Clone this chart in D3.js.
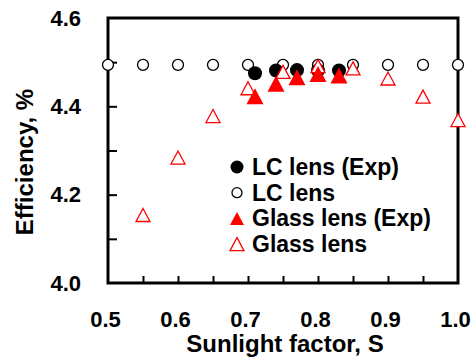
<!DOCTYPE html>
<html>
<head>
<meta charset="utf-8">
<script src="https://cdn.jsdelivr.net/npm/d3@7"></script>
<style>
  body { margin: 0; background: #fff; }
  svg { display: block; font-family: "Liberation Sans", Arial, sans-serif; font-weight: bold; }
</style>
</head>
<body>
<div id="chart"></div>
<script>
// Sunlight factor S and efficiency (%) for each series
const lcExpS = [0.71, 0.74, 0.77, 0.80, 0.83];
const lcExpEff = [4.475, 4.481, 4.482, 4.481, 4.481];

const lcS = [0.50, 0.55, 0.60, 0.65, 0.70, 0.75, 0.80, 0.85, 0.90, 0.95, 1.00];
const lcEff = [4.494, 4.494, 4.494, 4.494, 4.494, 4.494, 4.494, 4.494, 4.494, 4.494, 4.494];

const glassExpS = [0.71, 0.74, 0.77, 0.80, 0.83];
const glassExpEff = [4.423, 4.451, 4.466, 4.473, 4.470];

const glassS = [0.55, 0.60, 0.65, 0.70, 0.75, 0.80, 0.85, 0.90, 0.95, 1.00];
const glassEff = [4.154, 4.284, 4.378, 4.441, 4.478, 4.491, 4.486, 4.463, 4.422, 4.369];

const xTicks = [0.5, 0.6, 0.7, 0.8, 0.9, 1.0];
const yTicks = [4.0, 4.2, 4.4, 4.6];
const legendLabels = ['LC lens (Exp)', 'LC lens', 'Glass lens (Exp)', 'Glass lens'];

const width = 472, height = 358;
const margin = { top: 18, right: 14, bottom: 75, left: 108 };
const w = width - margin.left - margin.right;
const h = height - margin.top - margin.bottom;

const svg = d3.select('#chart').append('svg')
  .attr('width', width)
  .attr('height', height);

const g = svg.append('g')
  .attr('transform', `translate(${margin.left},${margin.top})`);

const x = d3.scaleLinear().domain([0.5, 1.0]).range([0, w]);
const y = d3.scaleLinear().domain([4.0, 4.6]).range([h, 0]);

// triangle path centred on its bounding box
function tri(tw, th) {
  return `M0,${-th / 2}L${tw / 2},${th / 2}L${-tw / 2},${th / 2}Z`;
}

// inward ticks
g.append('g')
  .attr('transform', `translate(0,${h})`)
  .call(d3.axisBottom(x).tickValues(d3.range(0.55, 1.0, 0.05)).tickSize(-7).tickFormat(''))
  .call(a => a.select('.domain').remove())
  .call(a => a.selectAll('line').attr('stroke', '#000').attr('stroke-width', 2));

g.append('g')
  .call(d3.axisLeft(y).tickValues([4.1, 4.2, 4.3, 4.4, 4.5]).tickSize(-9).tickFormat(''))
  .call(a => a.select('.domain').remove())
  .call(a => a.selectAll('line').attr('stroke', '#000').attr('stroke-width', 2));

// tick labels
g.append('g')
  .attr('transform', `translate(0,${h})`)
  .call(d3.axisBottom(x).tickValues(xTicks).tickSize(0).tickPadding(28).tickFormat(d3.format('.1f')))
  .call(a => a.select('.domain').remove())
  .call(a => a.selectAll('text').attr('font-size', 22).attr('font-family', null).attr('fill', '#000').attr('dx', -3));

g.append('g')
  .call(d3.axisLeft(y).tickValues(yTicks).tickSize(0).tickPadding(27).tickFormat(d3.format('.1f')))
  .call(a => a.select('.domain').remove())
  .call(a => a.selectAll('text').attr('font-size', 22).attr('font-family', null).attr('fill', '#000'));

// frame
g.append('rect')
  .attr('width', w)
  .attr('height', h)
  .attr('fill', 'none')
  .attr('stroke', '#000')
  .attr('stroke-width', 3);

// series
const lcData = lcS.map((s, i) => ({ s, e: lcEff[i] }));
const lcExpData = lcExpS.map((s, i) => ({ s, e: lcExpEff[i] }));
const glassData = glassS.map((s, i) => ({ s, e: glassEff[i] }));
const glassExpData = glassExpS.map((s, i) => ({ s, e: glassExpEff[i] }));

g.selectAll('.lc').data(lcData).enter().append('circle')
  .attr('cx', d => x(d.s)).attr('cy', d => y(d.e)).attr('r', 5.5)
  .attr('fill', '#fff').attr('stroke', '#000').attr('stroke-width', 1.3);

g.selectAll('.lcexp').data(lcExpData).enter().append('circle')
  .attr('cx', d => x(d.s)).attr('cy', d => y(d.e)).attr('r', 7)
  .attr('fill', '#000');

g.selectAll('.glass').data(glassData).enter().append('path')
  .attr('transform', d => `translate(${x(d.s)},${y(d.e)})`)
  .attr('d', tri(14, 13))
  .attr('fill', '#fff').attr('stroke', '#ff0000').attr('stroke-width', 1.3);

g.selectAll('.glassexp').data(glassExpData).enter().append('path')
  .attr('transform', d => `translate(${x(d.s)},${y(d.e)})`)
  .attr('d', tri(17, 16))
  .attr('fill', '#ff0000');

// legend
const legend = svg.append('g').attr('transform', 'translate(237,167)');
const rowGap = 25.7;
legendLabels.forEach((label, i) => {
  const row = legend.append('g').attr('transform', `translate(0,${i * rowGap})`);
  if (i === 0) row.append('circle').attr('r', 6.5).attr('fill', '#000');
  if (i === 1) row.append('circle').attr('r', 5).attr('fill', '#fff').attr('stroke', '#000').attr('stroke-width', 1.3);
  if (i === 2) row.append('path').attr('d', tri(14, 13)).attr('fill', '#ff0000');
  if (i === 3) row.append('path').attr('d', tri(14, 13)).attr('fill', '#fff').attr('stroke', '#ff0000').attr('stroke-width', 1.3);
  row.append('text')
    .attr('x', 15)
    .attr('dy', '0.35em')
    .attr('font-size', 23)
    .text(label);
});

// axis titles
svg.append('text')
  .attr('x', margin.left + w / 2 + 2)
  .attr('y', 352)
  .attr('text-anchor', 'middle')
  .attr('font-size', 24)
  .text('Sunlight factor, S');

svg.append('text')
  .attr('transform', 'translate(33,162) rotate(-90)')
  .attr('text-anchor', 'middle')
  .attr('font-size', 24)
  .text('Efficiency, %');
</script>
</body>
</html>
